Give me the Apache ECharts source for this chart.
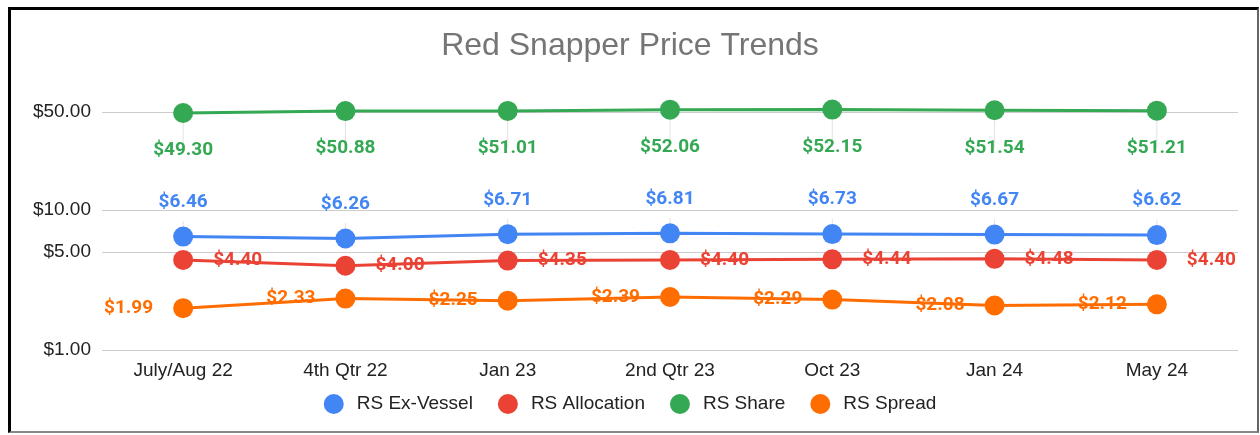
<!DOCTYPE html>
<html>
<head>
<meta charset="utf-8">
<script src="https://cdn.jsdelivr.net/npm/echarts@6/dist/echarts.min.js"></script>
<style>
  html, body { margin: 0; padding: 0; background: #fff; }
  #chart { width: 1260px; height: 435px; }
  #frame {
    position: absolute; left: 8px; top: 7px; width: 1246px; height: 421px;
    border-top: 3px solid #000; border-left: 3px solid #000;
    border-right: 2px solid #666; border-bottom: 2px solid #888;
    pointer-events: none;
  }
</style>
</head>
<body>
<div id="chart"></div>
<div id="frame"></div>
<script>
const categories = ['July/Aug 22', '4th Qtr 22', 'Jan 23', '2nd Qtr 23', 'Oct 23', 'Jan 24', 'May 24']
const exVessel = [6.46, 6.26, 6.71, 6.81, 6.73, 6.67, 6.62]
const allocation = [4.40, 4.00, 4.35, 4.40, 4.44, 4.48, 4.40]
const share = [49.30, 50.88, 51.01, 52.06, 52.15, 51.54, 51.21]
const spread = [1.99, 2.33, 2.25, 2.39, 2.29, 2.08, 2.12]
const yTicks = [1, 5, 10, 50]

const money = p => '$' + Number(p.value).toFixed(2)

function makeSeries(name, data, color, position, distance) {
  const vertical = position === 'top' || position === 'bottom'
  return {
    name,
    type: 'line',
    data,
    symbol: 'circle',
    symbolSize: 20,
    lineStyle: { color, width: 3 },
    itemStyle: { color },
    label: {
      show: true,
      position,
      distance,
      color,
      fontFamily: 'Roboto',
      fontWeight: 'bold',
      fontSize: 19,
      formatter: money
    },
    labelLine: { show: vertical, lineStyle: { color: '#e3e3e3', width: 1 } }
  }
}

const chart = echarts.init(document.getElementById('chart'))
chart.setOption({
  animation: false,
  title: {
    text: 'Red Snapper Price Trends',
    left: 'center',
    top: 25,
    textStyle: { fontFamily: 'Liberation Sans', fontWeight: 'normal', fontSize: 32, color: '#757575' }
  },
  legend: {
    top: 389,
    left: 'center',
    icon: 'circle',
    itemWidth: 20,
    itemHeight: 20,
    itemGap: 25,
    textStyle: { fontFamily: 'Liberation Sans', fontSize: 19, color: '#222', padding: [0, 0, 0, 8] },
    data: ['RS Ex-Vessel', 'RS Allocation', 'RS Share', 'RS Spread']
  },
  grid: { left: 102, right: 22, top: 70, bottom: 85 },
  xAxis: {
    type: 'category',
    data: categories,
    axisLine: { show: false },
    axisTick: { show: false },
    axisLabel: { fontFamily: 'Liberation Sans', fontSize: 19, color: '#222', margin: 11 }
  },
  yAxis: {
    type: 'log',
    logBase: 10,
    min: 1,
    max: 100,
    axisLine: { show: false },
    axisTick: { show: false, customValues: yTicks },
    axisLabel: {
      customValues: yTicks,
      fontFamily: 'Liberation Sans', fontSize: 19, color: '#222', margin: 11,
      formatter: v => '$' + Number(v).toFixed(2)
    },
    splitLine: { show: true, lineStyle: { color: '#cccccc', width: 1 } }
  },
  series: [
    makeSeries('RS Ex-Vessel', exVessel, '#4285F4', 'top', 15),
    makeSeries('RS Allocation', allocation, '#EA4335', 'right', 20),
    makeSeries('RS Share', share, '#34A853', 'bottom', 18),
    makeSeries('RS Spread', spread, '#FF6D01', 'left', 20)
  ]
})
</script>
</body>
</html>
